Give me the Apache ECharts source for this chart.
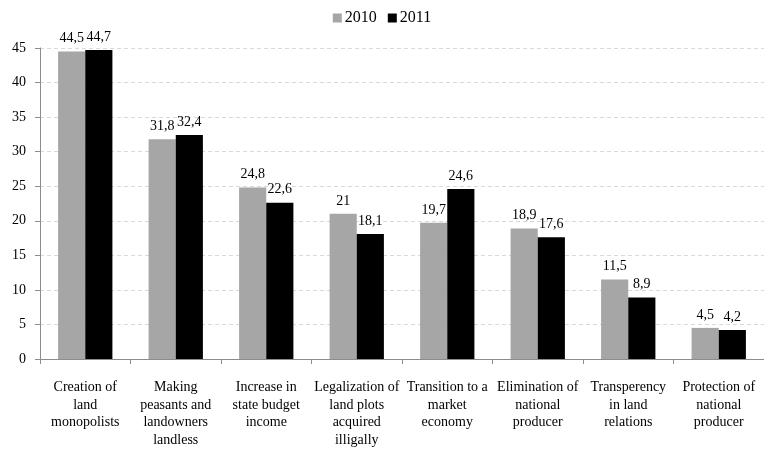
<!DOCTYPE html>
<html>
<head>
<meta charset="utf-8">
<script src="https://cdn.jsdelivr.net/npm/echarts@6/dist/echarts.min.js"></script>
<style>
  html, body { margin: 0; padding: 0; background: #fff; }
  #chart { width: 764px; height: 449px; }
</style>
</head>
<body>
<div id="chart"></div>
<script>
// Category names (line breaks as they wrap under the axis)
var categories = [
  'Creation of\nland\nmonopolists',
  'Making\npeasants and\nlandowners\nlandless',
  'Increase in\nstate budget\nincome',
  'Legalization of\nland plots\nacquired\nilligally',
  'Transition to a\nmarket\neconomy',
  'Elimination of\nnational\nproducer',
  'Transperency\nin land\nrelations',
  'Protection of\nnational\nproducer'
];
var values2010 = [44.5, 31.8, 24.8, 21, 19.7, 18.9, 11.5, 4.5];
var values2011 = [44.7, 32.4, 22.6, 18.1, 24.6, 17.6, 8.9, 4.2];
var yTicks = { min: 0, max: 45, interval: 5 };

var FONT = '"Liberation Serif", "DejaVu Serif", serif';

function commaLabel(p) {
  return String(p.value).replace('.', ',');
}

var chart = echarts.init(document.getElementById('chart'));
chart.setOption({
  animation: false,
  textStyle: { fontFamily: FONT },
  legend: {
    top: 5,
    left: 'center',
    itemWidth: 9,
    itemHeight: 9,
    itemGap: 11,
    icon: 'rect',
    textStyle: { fontFamily: FONT, fontSize: 16, color: '#000', padding: [0, 0, 0, -2] },
    data: ['2010', '2011']
  },
  grid: { left: 40, top: 48, width: 728, height: 315, containLabel: false },
  xAxis: {
    type: 'category',
    data: categories,
    axisLine: { lineStyle: { color: '#8c8c8c', width: 1 } },
    axisTick: { show: true, alignWithLabel: false, length: 5, lineStyle: { color: '#8c8c8c' } },
    axisLabel: {
      interval: 0,
      margin: 20,
      fontFamily: FONT,
      fontSize: 14,
      lineHeight: 17.5,
      color: '#000',
      overflow: 'none'
    }
  },
  yAxis: {
    type: 'value',
    min: yTicks.min,
    max: yTicks.max,
    interval: yTicks.interval,
    axisLine: { show: true, lineStyle: { color: '#8c8c8c', width: 1 } },
    axisTick: { show: true, length: 5, lineStyle: { color: '#8c8c8c' } },
    axisLabel: { fontFamily: FONT, fontSize: 14, color: '#000', margin: 14 },
    splitLine: { show: true, lineStyle: { color: '#d9d9d9', type: [4, 3], width: 1 } }
  },
  series: [
    {
      name: '2010',
      type: 'bar',
      data: values2010,
      barGap: '0%',
      barCategoryGap: '40%',
      itemStyle: { color: '#a6a6a6' },
      label: {
        show: true,
        position: 'top',
        distance: 6,
        fontFamily: FONT,
        fontSize: 14,
        color: '#000',
        formatter: commaLabel
      }
    },
    {
      name: '2011',
      type: 'bar',
      data: values2011,
      barGap: '0%',
      barCategoryGap: '40%',
      itemStyle: { color: '#000000' },
      label: {
        show: true,
        position: 'top',
        distance: 6,
        fontFamily: FONT,
        fontSize: 14,
        color: '#000',
        formatter: commaLabel
      }
    }
  ]
});
</script>
</body>
</html>
